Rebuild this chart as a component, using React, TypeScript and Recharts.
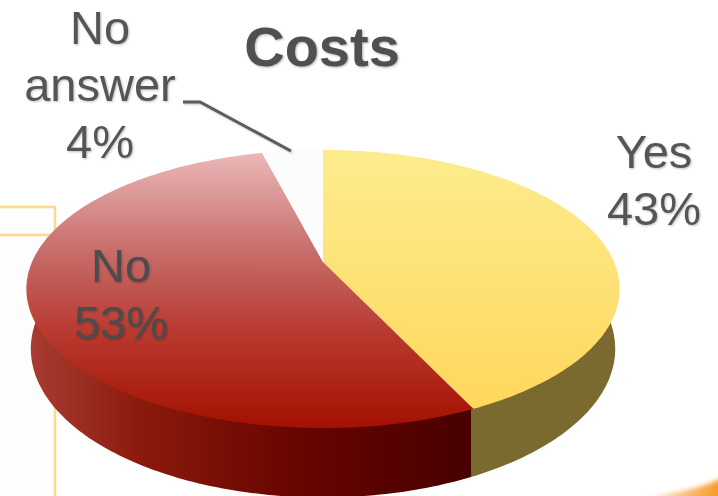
import { PieChart, Pie } from 'recharts';

const categories = ['Yes', 'No', 'No answer'];
const shares = [43, 53, 4];
const labelLines = [['Yes'], ['No'], ['No', 'answer']];

const data = categories.map((name, i) => ({ name, value: shares[i] }));

const topFills: Record<string, string> = { Yes: 'url(#topYes)', No: 'url(#topNo)', 'No answer': '#fcfcfc' };
const wallFills: Record<string, string> = { Yes: '#7b6a2f', No: 'url(#wallNo)', 'No answer': '#fcfcfc' };

// where each label block sits: centre x, first baseline
const labelPos: Record<string, { x: number; y: number; color: string }> = {
  Yes: { x: 654, y: 168, color: '#555555' },
  No: { x: 121, y: 282, color: '#4a4c4e' },
  'No answer': { x: 100, y: 44, color: '#555555' },
};

// the disc is seen in perspective, so a point on the circle goes through a projection
const project = (cx: number, cy: number, r: number, deg: number, depth: number, shrink: number) => {
  const a = (deg * Math.PI) / 180;
  const u = Math.cos(a);
  const v = -Math.sin(a);
  const w = 1 - 0.194 * v;
  const x = cx + (2.91 * r * u * shrink) / w;
  const y = cy + (1.338 * r * v * shrink) / w + (depth * r) / w;
  return [x, y];
};

const arc = (p: any, from: number, to: number, depth: number, shrink: number) => {
  const steps = Math.max(2, Math.ceil(Math.abs(to - from)));
  const pts: string[] = [];
  for (let i = 0; i <= steps; i++) {
    const [x, y] = project(p.cx, p.cy, p.outerRadius, from + ((to - from) * i) / steps, depth, shrink);
    pts.push(`${x.toFixed(1)},${y.toFixed(1)}`);
  }
  return pts;
};

const TopFace = (p: any) => {
  const pts = arc(p, p.startAngle, p.endAngle, 0, 1);
  return <path d={`M${p.cx},${p.cy}L${pts.join('L')}Z`} fill={topFills[p.name]} />;
};

// wall starts a little inside the top face so no seam shows along the rim
const Wall = (p: any) => {
  const upper = arc(p, p.startAngle, p.endAngle, 0, 0.985);
  const lower = arc(p, p.endAngle, p.startAngle, 0.58, 0.985);
  return <path d={`M${upper.join('L')}L${lower.join('L')}Z`} fill={wallFills[p.name]} />;
};

const SliceLabel = (p: any) => {
  const pos = labelPos[p.name];
  const lines = [...labelLines[categories.indexOf(p.name)], `${p.value}%`];
  return (
    <g style={{ filter: 'drop-shadow(1px 1px 1px rgba(0,0,0,0.25))' }}>
      {p.name === 'No answer' && (
        <polyline points="183,102 200,102 291,151" fill="none" stroke="#5c5c5c" strokeWidth={3} />
      )}
      {lines.map((t, i) => (
        <text
          key={t}
          x={pos.x}
          y={pos.y + i * 57}
          textAnchor="middle"
          fontFamily="Liberation Sans"
          fontSize={47}
          fill={pos.color}
        >
          {t}
        </text>
      ))}
    </g>
  );
};

const Backdrop = () => (
  <svg width={718} height={496} style={{ position: 'absolute', left: 0, top: 0 }}>
    <defs>
      <linearGradient id="swoosh" x1="0" y1="0" x2="1" y2="0">
        <stop offset="0%" stopColor="#ffffff" />
        <stop offset="40%" stopColor="#fcd29c" />
        <stop offset="100%" stopColor="#f7941d" />
      </linearGradient>
    </defs>
    <rect x={-6} y={207} width={61} height={28} fill="#fdfdfd" stroke="#fcd98c" strokeWidth={2.5} />
    <rect x={-6} y={235} width={61} height={270} fill="#fdfdfd" stroke="#fcd98c" strokeWidth={2.5} />
    <path d="M630,502 C665,494 700,490 724,477 L724,502 Z" fill="url(#swoosh)" style={{ filter: 'blur(2.5px)' }} />
  </svg>
);

export default function App() {
  return (
    <div style={{ position: 'absolute', left: 0, top: 0, width: 718, height: 496, overflow: 'hidden', background: '#fff' }}>
      <Backdrop />
      <div style={{ position: 'absolute', left: 0, top: 0, filter: 'blur(0.5px)' }}>
        <PieChart width={718} height={496} margin={{ top: 0, right: 0, bottom: 0, left: 0 }}>
          <defs>
            <linearGradient id="topYes" gradientUnits="userSpaceOnUse" x1="0" y1="150" x2="0" y2="410">
              <stop offset="0%" stopColor="#fdec8e" />
              <stop offset="100%" stopColor="#ffd75c" />
            </linearGradient>
            <linearGradient id="topNo" gradientUnits="userSpaceOnUse" x1="0" y1="153" x2="0" y2="428">
              <stop offset="0%" stopColor="#eab8b8" />
              <stop offset="35%" stopColor="#c86e6c" />
              <stop offset="65%" stopColor="#b83a30" />
              <stop offset="100%" stopColor="#a41000" />
            </linearGradient>
            <linearGradient id="wallNo" gradientUnits="userSpaceOnUse" x1="30" y1="0" x2="468" y2="0">
              <stop offset="0%" stopColor="#a83c32" />
              <stop offset="25%" stopColor="#8c1a0c" />
              <stop offset="60%" stopColor="#680500" />
              <stop offset="100%" stopColor="#480000" />
            </linearGradient>
          </defs>
          <Pie
            data={data}
            dataKey="value"
            nameKey="name"
            cx={323}
            cy={262}
            outerRadius={100}
            startAngle={90}
            endAngle={-270}
            stroke="none"
            shape={Wall}
            isAnimationActive={false}
          />
          <Pie
            data={data}
            dataKey="value"
            nameKey="name"
            cx={323}
            cy={262}
            outerRadius={100}
            startAngle={90}
            endAngle={-270}
            stroke="none"
            shape={TopFace}
            label={SliceLabel}
            labelLine={false}
            isAnimationActive={false}
          />
          <text
            x={322}
            y={66}
            textAnchor="middle"
            fontFamily="Liberation Sans"
            fontWeight="bold"
            fontSize={56}
            fill="#505050"
            style={{ filter: 'drop-shadow(1px 1px 1px rgba(0,0,0,0.3))' }}
          >
            Costs
          </text>
        </PieChart>
      </div>
    </div>
  );
}
